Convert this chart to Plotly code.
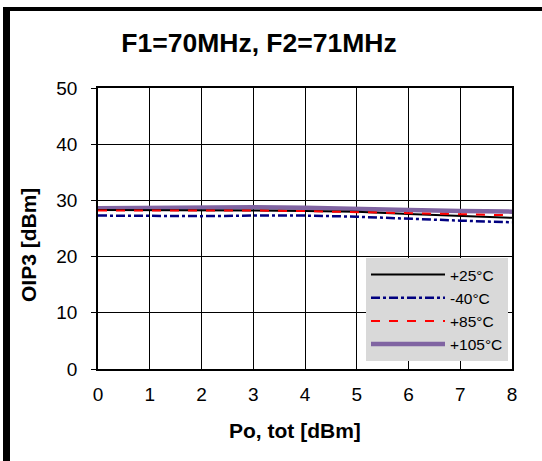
import plotly.graph_objects as go

po_tot = [0, 1, 2, 3, 4, 5, 6, 7, 8]
oip3_p25 = [28.3, 28.3, 28.3, 28.2, 28.1, 28.0, 27.6, 27.2, 26.9]
oip3_m40 = [27.3, 27.2, 27.2, 27.3, 27.3, 27.1, 26.7, 26.4, 26.1]
oip3_p85 = [28.2, 28.2, 28.3, 28.2, 28.1, 27.9, 27.7, 27.5, 27.35]
oip3_p105 = [28.6, 28.7, 28.9, 28.8, 28.7, 28.6, 28.3, 28.1, 28.0]
names = ["+25°C", "-40°C", "+85°C", "+105°C"]

W, H = 542, 461
L, R, T, B = 98, 30, 88, 92
pw, ph = W - L - R, H - T - B

fig = go.Figure()
fig.add_trace(go.Scatter(x=po_tot, y=oip3_p105, name=names[3], mode="lines",
                         line=dict(color="#8064a2", width=4.5), legendrank=4))
fig.add_trace(go.Scatter(x=po_tot, y=oip3_p25, name=names[0], mode="lines",
                         line=dict(color="black", width=2), legendrank=1))
fig.add_trace(go.Scatter(x=po_tot, y=oip3_m40, name=names[1], mode="lines",
                         line=dict(color="#000080", width=2.5, dash="dashdot"), legendrank=2))
fig.add_trace(go.Scatter(x=po_tot, y=oip3_p85, name=names[2], mode="lines",
                         line=dict(color="#ff0000", width=2, dash="dash"), legendrank=3))

def px_x(p):
    return (p - L) / pw

def px_y(p):
    return 1 - (p - T) / ph

shapes = [
    dict(type="rect", xref="paper", yref="paper", x0=px_x(3), x1=px_x(10),
         y0=px_y(H + 5), y1=px_y(7), fillcolor="black", line_width=0, layer="above"),
    dict(type="rect", xref="paper", yref="paper", x0=px_x(3), x1=px_x(W + 5),
         y0=px_y(11), y1=px_y(7), fillcolor="black", line_width=0, layer="above"),
]

annotations = [
    dict(text="<b>OIP3 [dBm]</b>", xref="paper", yref="paper", x=px_x(28), y=px_y(245),
         xanchor="center", yanchor="middle", textangle=-90, showarrow=False,
         font=dict(size=21)),
    dict(text="<b>Po, tot [dBm]</b>", xref="paper", yref="paper", x=px_x(295), y=px_y(430),
         xanchor="center", yanchor="middle", showarrow=False,
         font=dict(size=21)),
]

font = "Liberation Sans, Arial, sans-serif"
fig.update_layout(
    width=W, height=H,
    margin=dict(l=L, r=R, t=T, b=B),
    paper_bgcolor="white", plot_bgcolor="white",
    font=dict(family=font, size=19, color="black"),
    title=dict(text="<b>F1=70MHz, F2=71MHz</b>", x=259 / W, xanchor="center",
               y=1 - 43 / H, yanchor="middle", font=dict(size=26.5)),
    xaxis=dict(range=[0, 8], dtick=1, showgrid=True, gridcolor="black", gridwidth=1,
               showline=True, linecolor="black", linewidth=1.5, mirror=True,
               ticks="", zeroline=False, tickfont=dict(size=19),
               ticklabelstandoff=7),
    yaxis=dict(range=[0, 50], dtick=10, showgrid=True, gridcolor="black", gridwidth=1,
               showline=True, linecolor="black", linewidth=1.5, mirror=True,
               ticks="outside", ticklen=5, tickcolor="black", zeroline=False,
               tickfont=dict(size=19), ticklabelstandoff=10),
    legend=dict(x=1 - 4 / pw, y=8 / ph, xanchor="right", yanchor="bottom",
                bgcolor="#d9d9d9", borderwidth=0, font=dict(size=15.5),
                tracegroupgap=0, itemwidth=74, traceorder="normal"),
    shapes=shapes,
    annotations=annotations,
    showlegend=True,
)

fig.write_html("out.html")
